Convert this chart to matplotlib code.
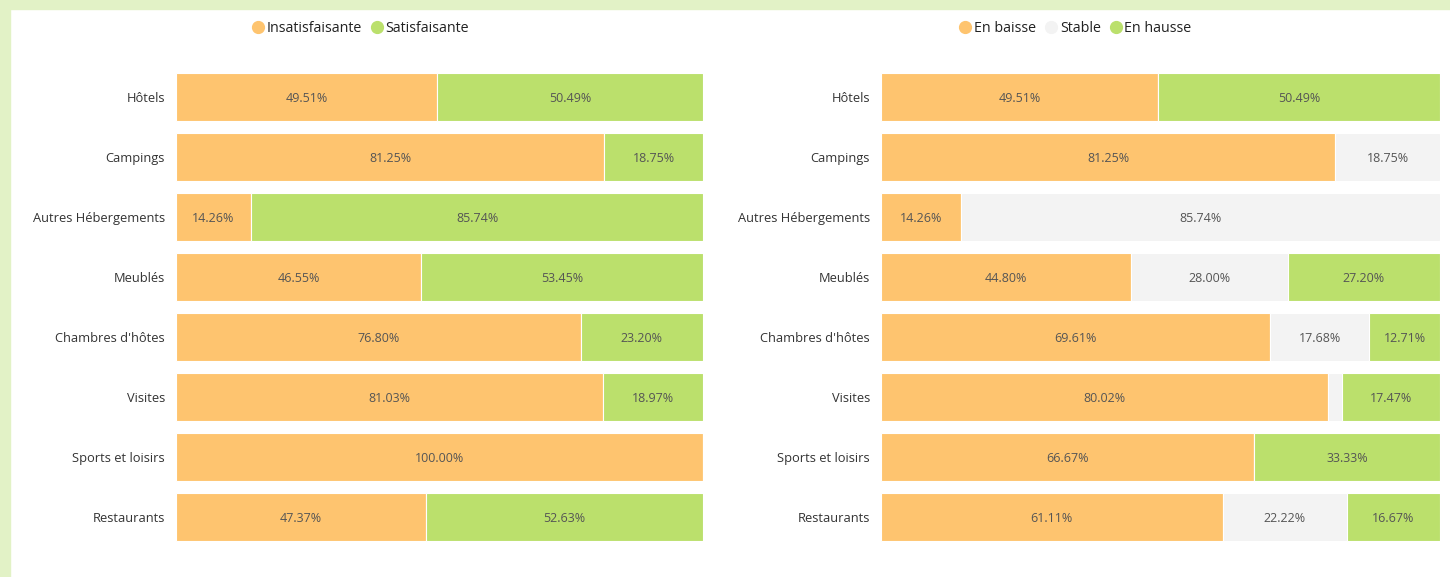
import matplotlib
matplotlib.use("Agg")
from matplotlib import pyplot
from matplotlib.lines import Line2D
from matplotlib.patches import Rectangle

categories = ["Hôtels", "Campings", "Autres Hébergements", "Meublés",
              "Chambres d'hôtes", "Visites", "Sports et loisirs", "Restaurants"]

# left chart
insatisfaisante = [49.51, 81.25, 14.26, 46.55, 76.80, 81.03, 100.00, 47.37]
satisfaisante = [50.49, 18.75, 85.74, 53.45, 23.20, 18.97, 0.0, 52.63]

# right chart
en_baisse = [49.51, 81.25, 14.26, 44.80, 69.61, 80.02, 66.67, 61.11]
stable = [0.0, 18.75, 85.74, 28.00, 17.68, 2.51, 0.0, 22.22]
en_hausse = [50.49, 0.0, 0.0, 27.20, 12.71, 17.47, 33.33, 16.67]

ORANGE = "#fec46f"
GREEN = "#bbe06c"
GREY = "#f3f3f3"
TEXT = "#333333"

pyplot.rcParams["font.family"] = ["Open Sans", "DejaVu Sans"]


def stacked(ax, series, colors):
    ypos = list(range(len(categories)))
    left = [0.0] * len(categories)
    for values, color in zip(series, colors):
        bars = ax.barh(ypos, values, left=left, height=0.8, color=color,
                       edgecolor="white", linewidth=0.8)
        for b, v in zip(bars, values):
            if v >= 5:
                ax.text(b.get_x() + b.get_width() / 2, b.get_y() + b.get_height() / 2,
                        f"{v:.2f}%", ha="center", va="center_baseline", fontsize=9,
                        color="#555555")
        left = [l + v for l, v in zip(left, values)]
    ax.set_xlim(0, 100)
    ax.set_ylim(len(categories) - 0.5, -0.5)
    ax.set_yticks(ypos)
    ax.set_yticklabels(categories, fontsize=9.3, color=TEXT)
    ax.tick_params(axis="y", length=0, pad=8)
    ax.set_xticks([])
    for s in ax.spines.values():
        s.set_visible(False)


def legend(fig, labels, colors, xc):
    handles = [Line2D([], [], marker="o", linestyle="none", markersize=8.5,
                      markerfacecolor=c, markeredgecolor=c) for c in colors]
    fig.legend(handles, labels, loc="center", bbox_to_anchor=(xc, 0.951),
               ncol=len(labels), frameon=False, fontsize=10.3, handletextpad=0.1,
               columnspacing=0.55, handlelength=1.0, labelcolor="#222222")


fig = pyplot.figure(figsize=(14.5, 5.77), dpi=100)
fig.patch.set_facecolor("white")

# light green frame on top and left
fig.patches.append(Rectangle((0, 1 - 9 / 577), 1, 9 / 577, transform=fig.transFigure,
                             color="#e2f2c6", zorder=0))
fig.patches.append(Rectangle((0, 0), 10 / 1450, 1, transform=fig.transFigure,
                             color="#e2f2c6", zorder=0))

ax1 = fig.add_axes([176 / 1450, 0.052, (703 - 176) / 1450, 0.832])
ax2 = fig.add_axes([881 / 1450, 0.052, (1440 - 881) / 1450, 0.832])

stacked(ax1, [insatisfaisante, satisfaisante], [ORANGE, GREEN])
stacked(ax2, [en_baisse, stable, en_hausse], [ORANGE, GREY, GREEN])

legend(fig, ["Insatisfaisante", "Satisfaisante"], [ORANGE, GREEN], 360 / 1450)
legend(fig, ["En baisse", "Stable", "En hausse"], [ORANGE, GREY, GREEN], 1075 / 1450)

pyplot.savefig("out.png", dpi=100)
